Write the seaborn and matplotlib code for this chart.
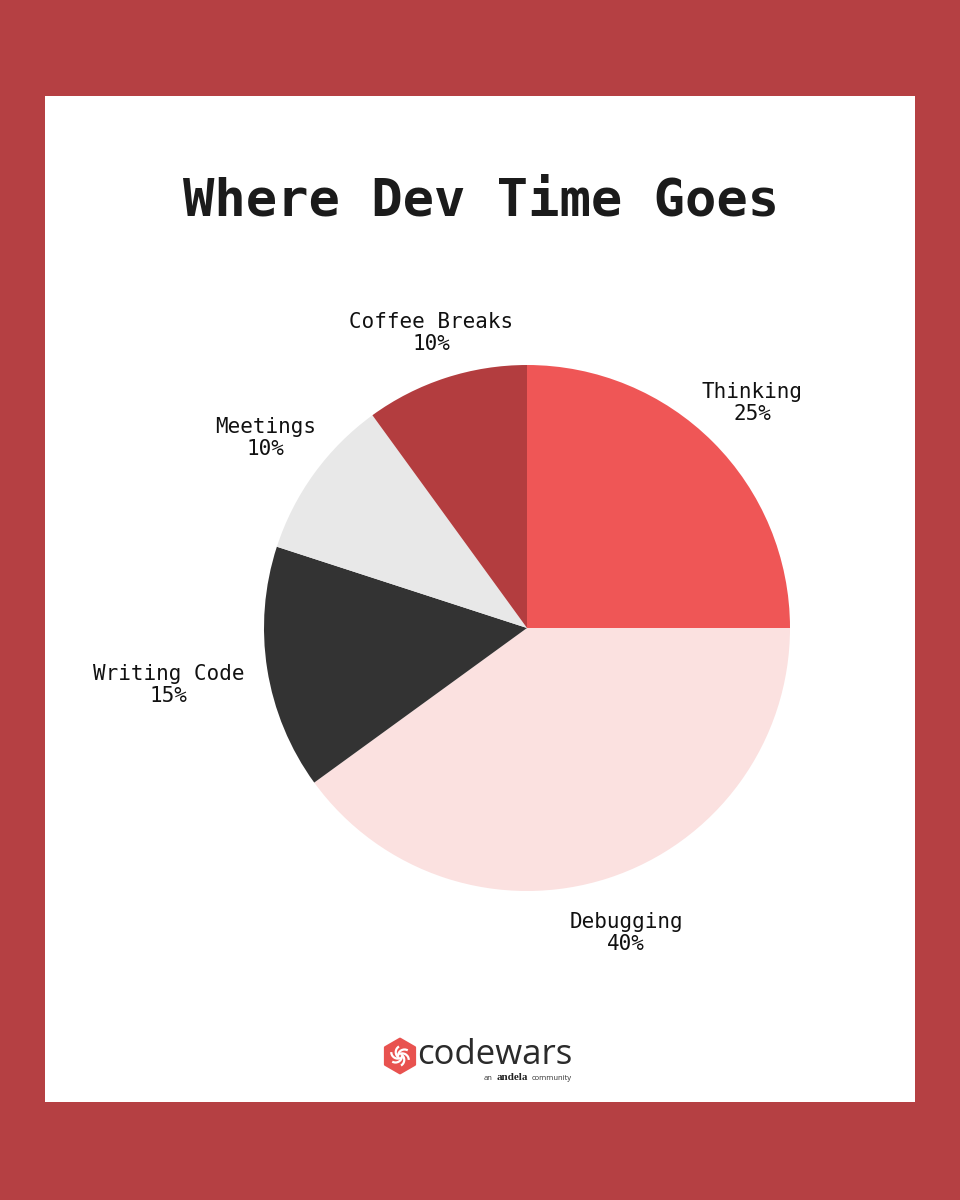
import numpy as np
import matplotlib
matplotlib.use("Agg")
import matplotlib.pyplot as plt
from matplotlib.patches import Rectangle, RegularPolygon, Arc
import seaborn as sns

sns.set_theme(style="white")
plt.rcParams['font.family'] = ['DejaVu Sans Mono', 'DejaVu Sans']

# data
categories = ["Thinking", "Debugging", "Writing Code", "Meetings", "Coffee Breaks"]
shares = [25, 40, 15, 10, 10]
slice_colors = ["#EF5656", "#FBE1E0", "#333333", "#E8E8E8", "#B33D3F"]
label_dist = [1.21, 1.22, 1.38, 1.23, 1.18]

title = "Where Dev Time Goes"
border_color = "#B54043"

fig = plt.figure(figsize=(9.6, 12), dpi=100, facecolor=border_color)

# background layer in pixel coordinates
bg = fig.add_axes([0, 0, 1, 1])
bg.set_xlim(0, 960)
bg.set_ylim(1200, 0)
bg.axis("off")
bg.add_patch(Rectangle((45, 96), 870, 1006, facecolor="white", edgecolor="none"))
bg.text(481, 202, title, ha="center", va="center", fontsize=37.5,
        fontweight="bold", color="#1b1b1b")

# codewars logo
bg.add_patch(RegularPolygon((400, 1056), numVertices=6, radius=17,
                            orientation=0, facecolor="#E8524F",
                            edgecolor="#E8524F", linewidth=2, joinstyle="round"))
for k in range(6):
    a = np.deg2rad(60 * k)
    cx, cy = 400 + 4.5 * np.cos(a), 1056 + 4.5 * np.sin(a)
    bg.add_patch(Arc((cx, cy), 13, 13, angle=60 * k, theta1=180, theta2=300,
                     color="white", linewidth=1.6))
bg.text(417, 1055, "codewars", ha="left", va="center", fontsize=25,
        color="#2b2b2b", family=["Open Sans", "DejaVu Sans"])
bg.text(484, 1078, "an", ha="left", va="center", fontsize=5.5,
        color="#333333", family=["Open Sans", "DejaVu Sans"])
bg.text(497, 1077, "andela", ha="left", va="center", fontsize=8,
        fontweight="bold", color="#222222",
        family=["Liberation Serif", "DejaVu Serif"])
bg.text(532, 1078, "community", ha="left", va="center", fontsize=5.5,
        color="#333333", family=["Open Sans", "DejaVu Sans"])

# pie
ax = fig.add_axes([(527 - 263) / 960, (1200 - 891) / 1200, 526 / 960, 526 / 1200])
wedges, _ = ax.pie(shares, colors=sns.color_palette(slice_colors),
                   startangle=90, counterclock=False, radius=1,
                   labels=None, wedgeprops=dict(linewidth=0))
ax.set_xlim(-1, 1)
ax.set_ylim(-1, 1)
ax.set_aspect("equal")
ax.axis("off")

for w, name, val, d in zip(wedges, categories, shares, label_dist):
    mid = np.deg2rad((w.theta1 + w.theta2) / 2)
    ax.text(d * np.cos(mid), d * np.sin(mid), f"{name}\n{val}%",
            ha="center", va="center", multialignment="center",
            fontsize=15, color="#111111", linespacing=1.15, clip_on=False)

fig.savefig("out.png", dpi=100, facecolor=border_color)
